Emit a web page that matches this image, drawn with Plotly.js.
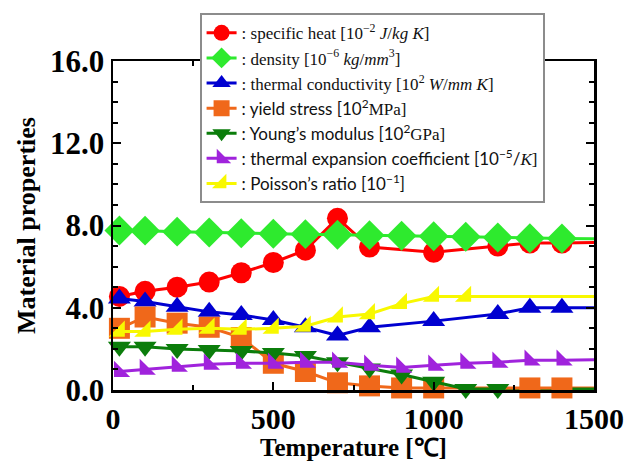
<!DOCTYPE html>
<html>
<head>
<meta charset="utf-8">
<script src="https://cdn.plot.ly/plotly-3.0.1.min.js"></script>
<style>html,body{margin:0;padding:0;background:#fff;}#chart{width:637px;height:461px;}</style>
</head>
<body>
<div id="chart"></div>
<script>
// Temperatures (°C); the last value of each series is a tail point beyond the axis range,
// drawn as line only (the line runs on to the plot edge in the reference)
const tempSpecificHeat = [20, 100, 200, 300, 400, 500, 600, 700, 800, 1000, 1200, 1300, 1400, 1600];
const specificHeat     = [4.55, 4.8, 5.0, 5.25, 5.7, 6.2, 6.8, 8.35, 6.95, 6.7, 7.0, 7.15, 7.15, 7.2];

const tempDensity = [20, 100, 200, 300, 400, 500, 600, 700, 800, 900, 1000, 1100, 1200, 1300, 1400, 1600];
const density     = [7.76, 7.75, 7.7, 7.66, 7.62, 7.6, 7.58, 7.55, 7.53, 7.5, 7.48, 7.45, 7.42, 7.38, 7.37, 7.34];

const tempConductivity = [20, 100, 200, 300, 400, 500, 600, 700, 800, 1000, 1200, 1300, 1400, 1600];
const conductivity     = [4.45, 4.3, 4.05, 3.8, 3.65, 3.4, 3.05, 2.65, 3.05, 3.35, 3.7, 4.0, 4.0, 4.0];

const tempYield   = [20, 100, 200, 300, 400, 500, 600, 700, 800, 900, 1000, 1300, 1400, 1600];
const yieldStress = [3.0, 3.55, 3.25, 3.05, 2.55, 1.3, 0.9, 0.35, 0.2, 0.1, 0.1, 0.1, 0.1, 0.1];

const tempYoung     = [20, 100, 200, 300, 400, 500, 600, 700, 800, 900, 1000, 1100, 1200, 1600];
const youngsModulus = [2.1, 2.1, 2.0, 1.95, 1.9, 1.8, 1.65, 1.35, 1.05, 0.75, 0.4, 0.05, 0.05, 0.05];

const tempExpansion = [20, 100, 200, 300, 400, 500, 600, 700, 800, 900, 1000, 1100, 1200, 1300, 1400, 1600];
const expansion     = [0.9, 1.0, 1.15, 1.25, 1.3, 1.3, 1.35, 1.35, 1.2, 1.1, 1.2, 1.3, 1.35, 1.45, 1.45, 1.5];

const tempPoisson = [20, 100, 200, 300, 400, 500, 600, 700, 800, 900, 1000, 1100, 1600];
const poisson     = [2.85, 2.85, 2.95, 3.0, 2.95, 3.0, 3.1, 3.55, 3.7, 4.2, 4.55, 4.55, 4.55];

const seriesNames = [
  ': specific heat [10<sup>−2</sup> <i>J</i>/<i>kg K</i>]',
  ': density [10<sup>−6</sup> <i>kg</i>/<i>mm</i><sup>3</sup>]',
  ': thermal conductivity [10<sup>2</sup> <i>W</i>/<i>mm K</i>]',
  '<span style="font-family:Lato">: yield stress [10<sup>2</sup></span>MPa]',
  '<span style="font-family:Lato">: Young’s modulus [10<sup>2</sup></span>GPa]',
  '<span style="font-family:Lato">: thermal expansion coefficient [10<sup>−5</sup>/</span><i>K</i>]',
  '<span style="font-family:Lato">: Poisson’s ratio [10<sup>−1</sup>]</span>'
];

function series(x, y, name, color, symbol, size) {
  const n = x.length;
  return [
    { // marked points
      x: x.slice(0, n - 1), y: y.slice(0, n - 1), name: name, type: 'scatter', mode: 'lines+markers',
      cliponaxis: false,
      line: {color: color, width: 3},
      marker: {color: color, symbol: symbol, size: size, opacity: 1, line: {width: 0}}
    },
    { // line running on to the plot edge
      x: x.slice(n - 2), y: y.slice(n - 2), type: 'scatter', mode: 'lines', showlegend: false,
      line: {color: color, width: 3}
    }
  ];
}

const defs = [
  [tempSpecificHeat, specificHeat, '#ff0000', 'circle', 21],
  [tempDensity, density, '#2eea2e', 'diamond', 23],
  [tempConductivity, conductivity, '#0000d0', 'triangle-up', 20],
  [tempYield, yieldStress, '#f0681a', 'square', 21],
  [tempYoung, youngsModulus, '#0b7d0b', 'triangle-down', 20],
  [tempExpansion, expansion, '#a023dc', 'triangle-sw', 18],
  [tempPoisson, poisson, '#f8f800', 'triangle-se', 18]
];

// tails first so marked lines sit above them
let tails = [], mains = [];
defs.forEach((d, i) => {
  const s = series(d[0], d[1], seriesNames[i], d[2], d[3], d[4]);
  mains.push(s[0]); tails.push(s[1]);
});
const traces = tails.concat(mains);

const layout = {
  width: 637, height: 461,
  margin: {l: 113, r: 43, t: 61, b: 71},
  paper_bgcolor: '#ffffff', plot_bgcolor: '#ffffff',
  font: {family: 'Liberation Serif, Times New Roman, serif', color: '#000'},
  showlegend: true,
  legend: {
    x: 0.18, y: 1.145, xanchor: 'left', yanchor: 'top',
    bgcolor: '#ffffff', bordercolor: '#8c8c8c', borderwidth: 2,
    font: {size: 17, family: 'Liberation Serif, serif', color: '#111'},
    tracegroupgap: 0, itemwidth: 30
  },
  xaxis: {
    range: [0, 1500], tickvals: [0, 500, 1000, 1500], ticktext: ['0', '500', '1000', '1500'],
    ticks: 'inside', ticklen: 8, tickwidth: 2, tickcolor: '#000',
    minor: {dtick: 250, ticks: 'inside', ticklen: 5, tickwidth: 2, tickcolor: '#000'},
    showline: true, linecolor: '#000', linewidth: 2.5, mirror: 'allticks',
    showgrid: false, zeroline: false,
    tickfont: {size: 30, family: 'Liberation Serif, serif', weight: 'bold'},
    title: {text: '<b>Temperature [℃]</b>', font: {size: 25, family: 'Liberation Serif, serif'}, standoff: 7}
  },
  yaxis: {
    range: [0, 16], tickvals: [0, 4, 8, 12, 16], ticktext: ['0.0', '4.0', '8.0', '12.0', '16.0'],
    ticks: 'inside', ticklen: 8, tickwidth: 2, tickcolor: '#000',
    minor: {dtick: 1, ticks: 'inside', ticklen: 5, tickwidth: 2, tickcolor: '#000'},
    showline: true, linecolor: '#000', linewidth: 2.5, mirror: 'allticks',
    showgrid: false, zeroline: false,
    tickfont: {size: 31, family: 'Liberation Serif, serif', weight: 'bold'},
    title: {text: '<b>Material properties</b>', font: {size: 26, family: 'Liberation Serif, serif'}, standoff: 7}
  }
};

Plotly.newPlot('chart', traces, layout, {displayModeBar: false, staticPlot: true});
</script>
</body>
</html>
